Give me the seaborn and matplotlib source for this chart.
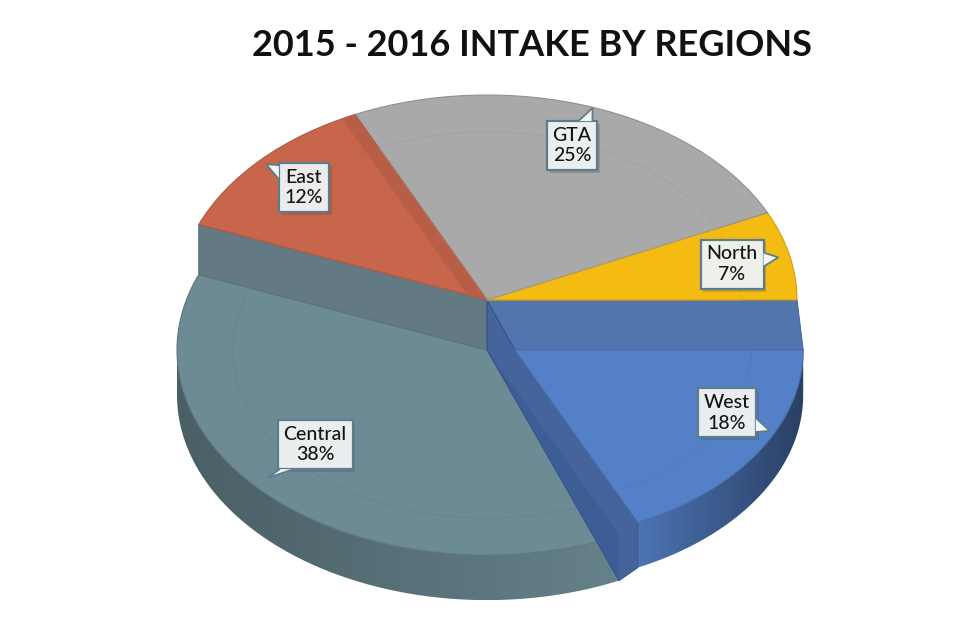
import numpy as np
import matplotlib
matplotlib.use("Agg")
import matplotlib.pyplot as plt
import seaborn as sns
from matplotlib.patches import Wedge, Polygon
from matplotlib import patheffects as pe
from matplotlib.colors import to_rgb

# data
regions = ["West", "North", "GTA", "East", "Central"]
shares = [18, 7, 25, 12, 38]
face_colors = ["#5480c8", "#f4bb12", "#a9a9a9", "#c8664c", "#6d8b95"]
chart_title = "2015 - 2016 INTAKE BY REGIONS"

sns.set_theme(style="white")
plt.rcParams["font.family"] = ["Lato", "DejaVu Sans"]


def shade(color, f):
    r, g, b = to_rgb(color)
    return (r * f, g * f, b * f)


fig = plt.figure(figsize=(9.75, 6.38), dpi=100)
ax = fig.add_axes([0, 0, 1, 1])

# fake 3D look: front slices sit lower, with a rim under them
drop = 0.244
rim = 0.22
west_dx = 0.09
west_r = 0.93
front = {"West": (west_dx, -drop, west_r), "Central": (0.0, -drop, 1.0)}

start = -shares[0] / sum(shares) * 360
wedges, _ = ax.pie(shares, colors=face_colors, startangle=start, counterclock=True,
                   wedgeprops=dict(linewidth=0.8))

geo = {}
for w, name, col in zip(wedges, regions, face_colors):
    w.set_edgecolor(shade(col, 0.85))
    cx, cy, r = front.get(name, (0.0, 0.0, 1.0))
    w.set_center((cx, cy))
    w.set_radius(r)
    w.set_zorder(4 if name == "West" else (2 if name == "Central" else 5))
    geo[name] = (w.theta1, w.theta2, cx, cy, r)
    # faint bevel ring
    ax.add_patch(Wedge((cx, cy), r * 0.82, w.theta1, w.theta2, fill=False,
                       ec=shade(col, 0.93), lw=0.7, alpha=0.6, zorder=w.get_zorder() + 0.1))


def arc(a1, a2, cx, cy, r, n=80):
    t = np.radians(np.linspace(a1, a2, n))
    return cx + r * np.cos(t), cy + r * np.sin(t)


def pt(a, cx, cy, r):
    t = np.radians(a)
    return (cx + r * np.cos(t), cy + r * np.sin(t))


# darker bevel band of East along the GTA edge
east_w = wedges[regions.index("East")]
t1 = geo["East"][0]
edge = np.array(pt(t1, 0, 0, 1))
dpx = np.array([edge[0] * 310, edge[1] * 205])
dpx /= np.hypot(*dpx)
off = np.array([-dpx[1], dpx[0]]) * 13 / np.array([310, 205])
band = Polygon([(0, 0), edge * 1.05, edge * 1.05 + off, off], closed=True,
               fc=shade(face_colors[3], 0.92), ec="none", zorder=5.05)
ax.add_patch(band)
band.set_clip_path(east_w)


def rim_band(name, a1, a2, f_left, f_right, z):
    _, _, cx, cy, r = geo[name]
    xs, ys = arc(a1, a2, cx, cy, r)
    px = np.concatenate([xs, xs[::-1]])
    py = np.concatenate([ys, ys[::-1] - rim])
    poly = Polygon(np.column_stack([px, py]), closed=True, fc="none", ec="none")
    ax.add_patch(poly)
    col = face_colors[regions.index(name)]
    fs = np.linspace(f_left, f_right, 256)
    img = np.array([[shade(col, f) for f in fs]])
    im = ax.imshow(img, extent=(px.min(), px.max(), py.min(), py.max()),
                   aspect="auto", interpolation="bilinear", zorder=z)
    im.set_clip_path(poly)


# rims of the front slices
rim_band("Central", 180, geo["Central"][1], 0.68, 0.93, 1)
rim_band("West", geo["West"][0], geo["West"][1], 0.90, 0.50, 1.5)

# inner wall of Central facing East
t1 = geo["Central"][0]
e0 = pt(t1, 0, 0, 1)
ax.fill([0, e0[0], e0[0], 0], [0, e0[1], e0[1] - drop, -drop],
        color="#637984", ec="#5d727c", lw=0.8, zorder=2.2)

# inner walls of West
t1, t2, cx, cy, r = geo["West"]
n_out = pt(t2, 0, 0, 1)
w_out = pt(t2, cx, cy, r)
ax.fill([0, n_out[0], w_out[0], cx], [0, n_out[1], w_out[1], cy],
        color="#5375ad", ec="#4a6aa0", lw=0.8, zorder=3)
w_tip = pt(t1, cx, cy, r)
c_tip = pt(geo["Central"][1], 0, -drop, 1)
ax.fill([0, cx, w_tip[0], w_tip[0], c_tip[0], 0],
        [0, cy, w_tip[1], w_tip[1] - rim, c_tip[1] - rim, -drop],
        color="#3b5c96", ec="#34528a", lw=0.8, alpha=0.95, zorder=3)

ax.set_xlim(-487 / 310, 488 / 310)
ax.set_ylim(-338 / 205, 300 / 205)
ax.set_aspect("auto")
ax.set_axis_off()

# callout labels
box_fc = (0.95, 0.96, 0.965)
box_ec = "#5e7d8c"
labels = []
for name, share in zip(regions, shares):
    t1, t2, cx, cy, r = geo[name]
    mid = np.radians((t1 + t2) / 2)
    lx = cx + 0.81 * np.cos(mid)
    ly = (cy / 2 if name in front else cy) + 0.8 * np.sin(mid)
    txt = ax.text(lx, ly, f"{name}\n{share}%", ha="center", va="center",
                  fontsize=14, fontweight="medium", color="#151515",
                  linespacing=1.25, zorder=10,
                  bbox=dict(boxstyle="square,pad=0.3", fc=box_fc + (0.95,),
                            ec=box_ec, lw=1.6))
    txt.get_bbox_patch().set_path_effects([pe.SimplePatchShadow(offset=(2, -2), alpha=0.25),
                                           pe.Normal()])
    u = np.array([np.cos(mid) * 310, np.sin(mid) * 205])
    labels.append((txt, u / np.hypot(*u)))

fig.canvas.draw()
renderer = fig.canvas.get_renderer()
to_fig = fig.transFigure.inverted()
for txt, u in labels:
    bb = txt.get_bbox_patch().get_window_extent(renderer)
    c = np.array([(bb.x0 + bb.x1) / 2, (bb.y0 + bb.y1) / 2])
    hw, hh = bb.width / 2, bb.height / 2
    tx = hw / abs(u[0]) if abs(u[0]) > 1e-9 else np.inf
    ty = hh / abs(u[1]) if abs(u[1]) > 1e-9 else np.inf
    e = c + min(tx, ty) * u
    if tx < ty:
        y0 = np.clip(e[1], bb.y0 + 9, bb.y1 - 9)
        b1, b2 = np.array([e[0], y0 - 7]), np.array([e[0], y0 + 7])
    else:
        x0 = np.clip(e[0], bb.x0 + 9, bb.x1 - 9)
        b1, b2 = np.array([x0 - 7, e[1]]), np.array([x0 + 7, e[1]])
    tip = e + u * 15
    pts = to_fig.transform(np.array([b1, tip, b2]))
    fig.add_artist(Polygon(pts, closed=True, fc=box_fc, ec="none",
                           transform=fig.transFigure, zorder=5))
    fig.add_artist(Polygon(pts, closed=False, fill=False, ec=box_ec, lw=1.3,
                           transform=fig.transFigure, zorder=5.1))

fig.text(0.546, 0.929, chart_title, ha="center", va="center",
         fontsize=26, fontweight="bold", color="#111111")

fig.savefig("out.png", dpi=100)
